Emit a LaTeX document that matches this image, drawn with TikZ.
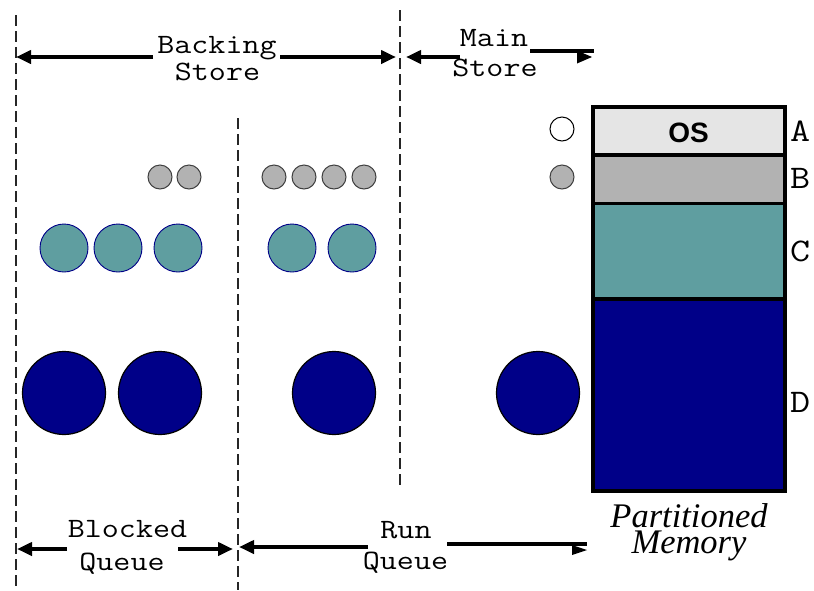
\documentclass[tikz,border=0pt]{standalone}
\usepackage{fontspec}
\setmonofont{Latin Modern Mono}[FakeStretch=1.18]
\newfontfamily\labsans{Liberation Sans}
\newfontfamily\labserif{Liberation Serif}
\usetikzlibrary{arrows.meta}
\definecolor{osgray}{HTML}{E5E5E5}
\definecolor{bgray}{HTML}{B2B2B2}
\definecolor{tealc}{HTML}{5F9EA0}
\definecolor{navyc}{HTML}{000088}
\begin{document}
\begin{tikzpicture}[x=1pt,y=-1pt,
  divider/.style={draw=black!85, line width=2pt, dash pattern=on 11pt off 5pt},
  dimline/.style={line width=4.5pt},
  dimarrow/.style={line width=4.5pt,-{Triangle[length=15pt,width=13pt]}},
  mono/.style={font=\ttfamily\fontsize{28}{30}\selectfont, inner sep=0, anchor=base},
  partlab/.style={font=\ttfamily\fontsize{33}{34}\selectfont, inner sep=0, anchor=base west},
  graycirc/.style={circle, draw=black!75, fill=bgray, line width=1pt, minimum size=24pt, inner sep=0},
  whitecirc/.style={circle, draw=black, fill=white, line width=1pt, minimum size=24pt, inner sep=0},
  tealcirc/.style={circle, draw=navyc, fill=tealc, line width=0.9pt, minimum size=48pt, inner sep=0},
  navycirc/.style={circle, draw=black, fill=navyc, line width=1.2pt, minimum size=83pt, inner sep=0},
  part/.style={rectangle, draw=black, line width=3.6pt, minimum width=192pt, inner sep=0, anchor=north west}
]
\useasboundingbox (0,0) rectangle (814,590);

% dashed dividers
\coordinate (d1t) at (16,15);  \coordinate (d1b) at (16,590);
\coordinate (d2t) at (238,118); \coordinate (d2b) at (238,590);
\coordinate (d3t) at (400,10);  \coordinate (d3b) at (400,490);
\draw[divider] (d1t) -- (d1b);
\draw[divider] (d2t) -- (d2b);
\draw[divider] (d3t) -- (d3b);

% Backing Store
\node[mono] (tBacking) at (217,53) {Backing};
\node[mono] (tStore1) at (217.5,80) {Store};
\coordinate (bsL) at (16,57);   \coordinate (bsLs) at (153,57);
\coordinate (bsR) at (396,57);  \coordinate (bsRs) at (280,57);
\draw[dimarrow] (bsLs) -- (bsL);
\draw[dimarrow] (bsRs) -- (bsR);

% Main Store
\node[mono] (tMain) at (494,46) {Main};
\node[mono] (tStore2) at (495,76) {Store};
\coordinate (msL) at (406,57);  \coordinate (msLs) at (460,57);
\coordinate (msRa) at (530,51); \coordinate (msRb) at (594,51);
\draw[dimarrow] (msLs) -- (msL);
\draw[dimline] (msRa) -- (msRb);
\coordinate (mhA) at (577,50.5); \coordinate (mhB) at (592,57); \coordinate (mhC) at (577,63.5);
\fill (mhA) -- (mhB) -- (mhC) -- cycle;

% Blocked Queue
\node[mono] (tBlocked) at (127.5,537) {Blocked};
\node[mono] (tQueue1) at (122,570) {Queue};
\coordinate (bqL) at (17,549);  \coordinate (bqLs) at (67,549);
\coordinate (bqR) at (233,549); \coordinate (bqRs) at (178,549);
\draw[dimarrow] (bqLs) -- (bqL);
\draw[dimarrow] (bqRs) -- (bqR);

% Run Queue
\node[mono] (tRun) at (406,538) {Run};
\node[mono] (tQueue2) at (405.5,569) {Queue};
\coordinate (rqL) at (239,547); \coordinate (rqLs) at (368,547);
\coordinate (rqRa) at (447,544); \coordinate (rqRb) at (587,544);
\draw[dimarrow] (rqLs) -- (rqL);
\draw[dimline] (rqRa) -- (rqRb);
\coordinate (rhA) at (572,545); \coordinate (rhB) at (587,550); \coordinate (rhC) at (572,555);
\fill (rhA) -- (rhB) -- (rhC) -- cycle;

% Partitioned memory
\node[part, fill=osgray, minimum height=48pt] (pA) at (591,105.3) {};
\node[part, fill=bgray, minimum height=48.4pt] (pB) at (591,153.3) {};
\node[part, fill=tealc, minimum height=95.3pt] (pC) at (591,201.7) {};
\node[part, fill=navyc, minimum height=192pt] (pD) at (591,297) {};
\node[font=\labsans\bfseries\fontsize{28}{28}\selectfont, inner sep=0, anchor=base] (os) at (688.5,142) {OS};
\node[partlab] (lA) at (790,141) {A};
\node[partlab] (lB) at (790,188) {B};
\node[partlab] (lC) at (790,261) {C};
\node[partlab] (lD) at (790,412) {D};
\node[font=\labserif\itshape\fontsize{34.5}{26}\selectfont, inner sep=0, align=center, anchor=base] (tPart) at (689,553) {Partitioned\\Memory};

% processes: small gray
\node[whitecirc] (w1) at (562,129) {};
\node[graycirc] (g1) at (160,177) {};
\node[graycirc] (g2) at (189,177) {};
\node[graycirc] (g3) at (274,177) {};
\node[graycirc] (g4) at (304,177) {};
\node[graycirc] (g5) at (334,177) {};
\node[graycirc] (g6) at (364,177) {};
\node[graycirc] (g7) at (562,177) {};

% teal
\node[tealcirc] (t1) at (64,248) {};
\node[tealcirc] (t2) at (118,248) {};
\node[tealcirc] (t3) at (178,248) {};
\node[tealcirc] (t4) at (292,248) {};
\node[tealcirc] (t5) at (352,248) {};

% navy
\node[navycirc] (n1) at (64,393) {};
\node[navycirc] (n2) at (160,393) {};
\node[navycirc] (n3) at (334,393) {};
\node[navycirc] (n4) at (538,393) {};
\end{tikzpicture}
\end{document}
